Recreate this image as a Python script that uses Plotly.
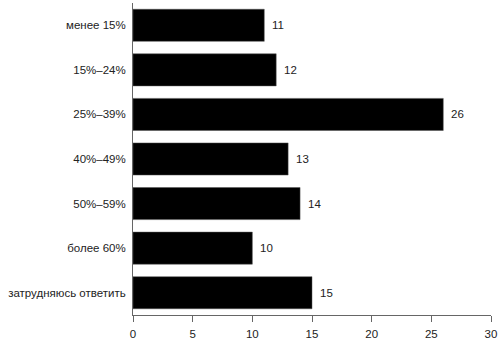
import plotly.graph_objects as go

categories = ["менее 15%", "15%–24%", "25%–39%", "40%–49%", "50%–59%", "более 60%", "затрудняюсь ответить"]
values = [11, 12, 26, 13, 14, 10, 15]
x_ticks = [0, 5, 10, 15, 20, 25, 30]

fig = go.Figure()
fig.add_trace(go.Bar(
    x=values, y=categories, orientation="h",
    marker=dict(color="#000000", line=dict(color="#555555", width=0.5)),
    hoverinfo="skip",
))
for c, v in zip(categories, values):
    fig.add_annotation(x=v, y=c, text=str(v), showarrow=False, xanchor="left",
                       xshift=6, font=dict(size=11.5, color="#222222"))

fig.update_layout(
    width=500, height=343,
    margin=dict(l=133, r=9, t=3, b=26),
    paper_bgcolor="white", plot_bgcolor="white",
    font=dict(family="Liberation Sans, Arial, sans-serif", size=11.5, color="#222222"),
    bargap=0.28,
    showlegend=False,
)
fig.update_yaxes(
    categoryorder="array", categoryarray=categories, autorange="reversed",
    showline=True, linecolor="#666666", linewidth=1,
    ticks="", showgrid=False, ticklabelstandoff=4,
)
fig.update_xaxes(
    range=[0, 30], tickvals=x_ticks, showline=True, linecolor="#666666", linewidth=1,
    ticks="outside", ticklen=6, tickcolor="#666666", showgrid=False, zeroline=False,
    ticklabelstandoff=2,
)
fig.write_html("out.html")
